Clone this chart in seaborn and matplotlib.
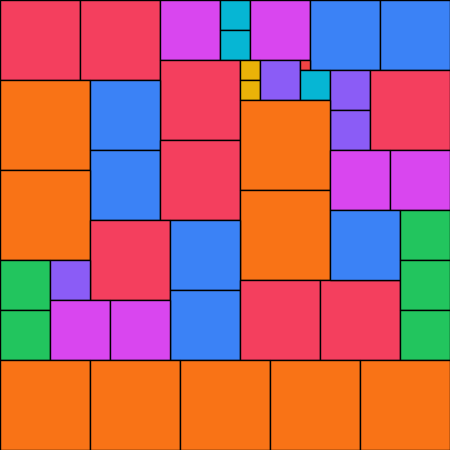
import matplotlib
matplotlib.use("Agg")
import matplotlib.pyplot as plt
import seaborn as sns

sns.set_theme(style="white")

# square packing: left x, top y, side length (pixel units of the 450x450 canvas)
sq_x = [0, 80, 160, 220, 220, 250, 310, 380,
        160, 240, 240, 260, 300, 300, 330, 330, 370,
        0, 90, 90, 160, 240, 240, 330, 390,
        0, 90, 170, 170, 0, 0, 50, 50, 110,
        240, 320, 330, 400, 400, 400,
        0, 90, 180, 270, 360]
sq_y = [0, 0, 0, 0, 30, 0, 0, 0,
        60, 60, 80, 60, 60, 70, 70, 110, 70,
        80, 80, 150, 140, 100, 190, 150, 150,
        170, 220, 220, 290, 260, 310, 260, 300, 300,
        280, 280, 210, 210, 260, 310,
        360, 360, 360, 360, 360]
sq_size = [80, 80, 60, 30, 30, 60, 70, 70,
           80, 20, 20, 40, 10, 30, 40, 40, 80,
           90, 70, 70, 80, 90, 90, 60, 60,
           90, 80, 70, 70, 50, 50, 40, 60, 60,
           80, 80, 70, 50, 50, 50,
           90, 90, 90, 90, 90]

size_levels = [10, 20, 30, 40, 50, 60, 70, 80, 90]
level_colors = ["#EF4444", "#EAB308", "#06B6D4", "#8B5CF6", "#22C55E",
                "#D946EF", "#3B82F6", "#F43F5E", "#F97316"]
palette = dict(zip(size_levels, level_colors))

fig = plt.figure(figsize=(4.5, 4.5), dpi=100)
ax = fig.add_axes([0, 0, 1, 1])
ax.bar(sq_x, sq_size, width=sq_size, bottom=sq_y, align="edge",
       color=[palette[s] for s in sq_size], edgecolor="black", linewidth=1.0)
ax.set_xlim(0, 450)
ax.set_ylim(450, 0)
ax.set_axis_off()
fig.savefig("out.png", dpi=100)
